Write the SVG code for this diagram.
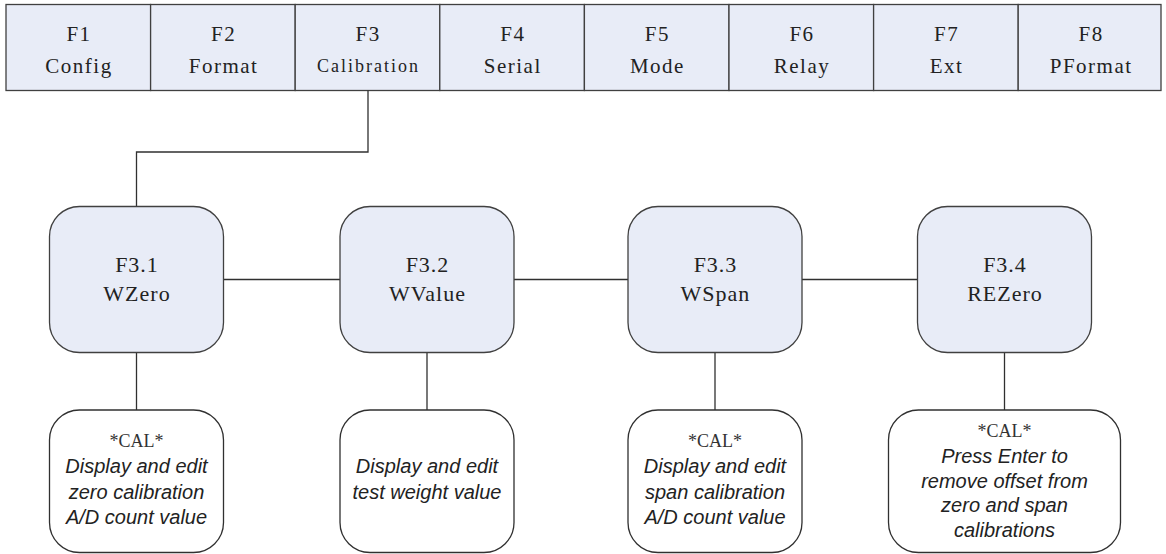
<svg xmlns="http://www.w3.org/2000/svg" width="1166" height="554" viewBox="0 0 1166 554">
<style>
.cell{fill:#E8ECF7;stroke:#404040;stroke-width:1.3}
.node{fill:#E8ECF7;stroke:#404040;stroke-width:1.3}
.note{fill:#FFFFFF;stroke:#303030;stroke-width:1.3}
.conn{fill:none;stroke:#303030;stroke-width:1.3}
.t1{font-family:"Liberation Serif",serif;font-size:21px;letter-spacing:1.5px;fill:#222;text-anchor:middle}
.t1s{font-family:"Liberation Serif",serif;font-size:18px;letter-spacing:2px;fill:#222;text-anchor:middle}
.t2{font-family:"Liberation Serif",serif;font-size:22px;letter-spacing:1px;fill:#222;text-anchor:middle}
.cal{font-family:"Liberation Serif",serif;font-size:18px;fill:#333;text-anchor:middle}
.it{font-family:"Liberation Sans",Arial,sans-serif;font-size:20px;font-style:italic;fill:#222;text-anchor:middle}
</style>
<g id="menu">
<g id="F1"><rect class="cell" x="6" y="4.5" width="144.6" height="86"/><text class="t1" x="79" y="41">F1</text><text class="t1" x="79" y="73">Config</text></g>
<g id="F2"><rect class="cell" x="150.6" y="4.5" width="144.6" height="86"/><text class="t1" x="223.6" y="41">F2</text><text class="t1" x="223.6" y="73">Format</text></g>
<g id="F3"><rect class="cell" x="295.2" y="4.5" width="144.6" height="86"/><text class="t1" x="368.2" y="41">F3</text><text class="t1s" x="368.5" y="72">Calibration</text></g>
<g id="F4"><rect class="cell" x="439.8" y="4.5" width="144.6" height="86"/><text class="t1" x="512.8" y="41">F4</text><text class="t1" x="512.8" y="73">Serial</text></g>
<g id="F5"><rect class="cell" x="584.4" y="4.5" width="144.6" height="86"/><text class="t1" x="657.4" y="41">F5</text><text class="t1" x="657.4" y="73">Mode</text></g>
<g id="F6"><rect class="cell" x="729" y="4.5" width="144.6" height="86"/><text class="t1" x="802" y="41">F6</text><text class="t1" x="802" y="73">Relay</text></g>
<g id="F7"><rect class="cell" x="873.6" y="4.5" width="144.6" height="86"/><text class="t1" x="946.6" y="41">F7</text><text class="t1" x="946.6" y="73">Ext</text></g>
<g id="F8"><rect class="cell" x="1018.2" y="4.5" width="142.8" height="86"/><text class="t1" x="1091.2" y="41">F8</text><text class="t1" x="1091.2" y="73">PFormat</text></g>
</g>
<g id="connectors">
<polyline class="conn" points="368,90.5 368,152 136.5,152 136.5,206.5"/>
<line class="conn" x1="223.5" y1="279.5" x2="340" y2="279.5"/>
<line class="conn" x1="514" y1="279.5" x2="628" y2="279.5"/>
<line class="conn" x1="802" y1="279.5" x2="917.5" y2="279.5"/>
<line class="conn" x1="136.5" y1="352.5" x2="136.5" y2="410"/>
<line class="conn" x1="427" y1="352.5" x2="427" y2="410"/>
<line class="conn" x1="715" y1="352.5" x2="715" y2="410"/>
<line class="conn" x1="1004.5" y1="352.5" x2="1004.5" y2="410"/>
</g>
<g id="F3.1"><rect class="node" x="49.5" y="206.5" width="174" height="146" rx="30" ry="30"/><text class="t2" x="137" y="272">F3.1</text><text class="t2" x="137" y="301">WZero</text></g>
<g id="F3.2"><rect class="node" x="340" y="206.5" width="174" height="146" rx="30" ry="30"/><text class="t2" x="427.5" y="272">F3.2</text><text class="t2" x="427.5" y="301">WValue</text></g>
<g id="F3.3"><rect class="node" x="628" y="206.5" width="174" height="146" rx="30" ry="30"/><text class="t2" x="715.5" y="272">F3.3</text><text class="t2" x="715.5" y="301">WSpan</text></g>
<g id="F3.4"><rect class="node" x="917.5" y="206.5" width="174" height="146" rx="30" ry="30"/><text class="t2" x="1005" y="272">F3.4</text><text class="t2" x="1005" y="301">REZero</text></g>
<g id="N3.1"><rect class="note" x="49.5" y="410" width="174" height="142.5" rx="30" ry="30"/><text class="cal" x="136.5" y="447">*CAL*</text><text class="it" x="136.5" y="473">Display and edit</text><text class="it" x="136.5" y="498.5">zero calibration</text><text class="it" x="136.5" y="524">A/D count value</text></g>
<g id="N3.2"><rect class="note" x="340" y="410" width="174" height="142.5" rx="30" ry="30"/><text class="it" x="427" y="473">Display and edit</text><text class="it" x="427" y="498.5">test weight value</text></g>
<g id="N3.3"><rect class="note" x="628" y="410" width="174" height="142.5" rx="30" ry="30"/><text class="cal" x="715" y="447">*CAL*</text><text class="it" x="715" y="473">Display and edit</text><text class="it" x="715" y="498.5">span calibration</text><text class="it" x="715" y="524">A/D count value</text></g>
<g id="N3.4"><rect class="note" x="888.5" y="410" width="232" height="142.5" rx="30" ry="30"/><text class="cal" x="1004.5" y="437">*CAL*</text><text class="it" x="1004.5" y="463">Press Enter to</text><text class="it" x="1004.5" y="487.5">remove offset from</text><text class="it" x="1004.5" y="512">zero and span</text><text class="it" x="1004.5" y="536.5">calibrations</text></g>
</svg>
